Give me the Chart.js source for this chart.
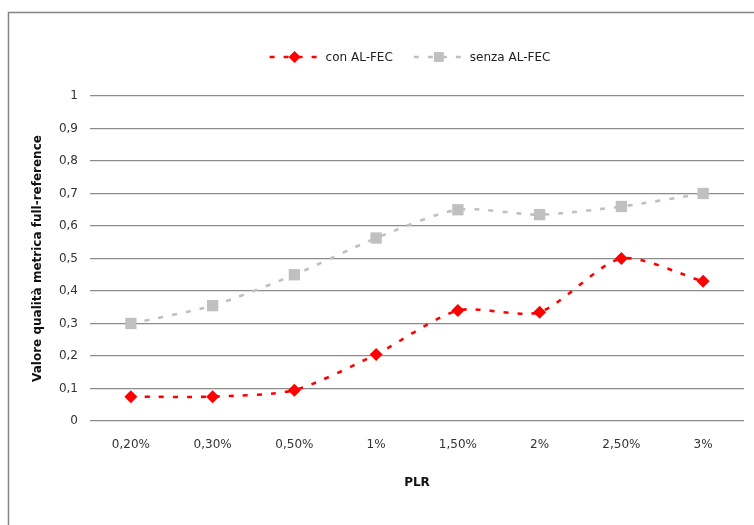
<!DOCTYPE html>
<html>
<head>
<meta charset="utf-8">
<script src="https://cdn.jsdelivr.net/npm/chart.js@4/dist/chart.umd.min.js"></script>
<style>
  html, body { margin: 0; padding: 0; background: #fff; }
  #wrap { width: 754px; height: 525px; position: relative; }
</style>
</head>
<body>
<div id="wrap"><canvas id="c" width="754" height="525"></canvas></div>
<script>
// Packet loss rates on the x axis
const categories = ['0,20%', '0,30%', '0,50%', '1%', '1,50%', '2%', '2,50%', '3%'];

// Full-reference quality metric, with and without AL-FEC
const conALFEC = [0.075, 0.075, 0.095, 0.205, 0.34, 0.335, 0.50, 0.43];
const senzaALFEC = [0.30, 0.355, 0.45, 0.563, 0.65, 0.635, 0.66, 0.70];

const seriesNames = ['con AL-FEC', 'senza AL-FEC'];
const yTicks = [0, 0.1, 0.2, 0.3, 0.4, 0.5, 0.6, 0.7, 0.8, 0.9, 1];

const FONT = 'DejaVu Sans, Verdana, sans-serif';

// Outer frame of the chart object (top and left edges)
const framePlugin = {
  id: 'frame',
  beforeDraw(chart) {
    const ctx = chart.ctx;
    ctx.save();
    ctx.fillStyle = '#fff';
    ctx.fillRect(0, 0, chart.width, chart.height);
    ctx.strokeStyle = '#858585';
    ctx.lineWidth = 1.5;
    ctx.beginPath();
    ctx.moveTo(8.5, chart.height);
    ctx.lineTo(8.5, 12.5);
    ctx.lineTo(chart.width, 12.5);
    ctx.stroke();
    ctx.restore();
  }
};

// Legend drawn as dashed line segment + marker + label
const lineLegendPlugin = {
  id: 'lineLegend',
  afterDraw(chart, args, opts) {
    const ctx = chart.ctx;
    const ds = chart.data.datasets;
    ctx.save();
    ctx.font = '12px ' + FONT;
    ctx.textBaseline = 'middle';
    const lineLen = 48, gapText = 8, gapItem = 21;
    const widths = ds.map(d => lineLen + gapText + ctx.measureText(d.label).width);
    const total = widths.reduce((a, b) => a + b, 0) + gapItem * (ds.length - 1);
    let x = opts.centerX - total / 2;
    const y = opts.y;
    ds.forEach((d, i) => {
      ctx.strokeStyle = d.borderColor;
      ctx.lineWidth = d.borderWidth;
      ctx.setLineDash(d.borderDash);
      ctx.beginPath();
      ctx.moveTo(x, y);
      ctx.lineTo(x + lineLen, y);
      ctx.stroke();
      ctx.setLineDash([]);
      ctx.fillStyle = d.pointBackgroundColor;
      Chart.helpers.drawPoint(ctx, {
        pointStyle: d.pointStyle,
        rotation: 0,
        borderWidth: 0,
        radius: opts.markerRadius[i]
      }, x + lineLen / 2 + 1, y);
      ctx.fillStyle = '#222';
      ctx.fillText(d.label, x + lineLen + gapText, y + 0.5);
      x += widths[i] + gapItem;
    });
    ctx.restore();
  }
};

new Chart(document.getElementById('c'), {
  type: 'line',
  data: {
    labels: categories,
    datasets: [
      {
        label: seriesNames[0],
        data: conALFEC,
        borderColor: '#ff0000',
        backgroundColor: '#ff0000',
        borderWidth: 2.6,
        borderDash: [5, 9],
        pointStyle: 'rectRot',
        pointRadius: 6.5,
        pointHoverRadius: 6.5,
        pointBackgroundColor: '#ff0000',
        pointBorderWidth: 0,
        tension: 0.25,
        fill: false
      },
      {
        label: seriesNames[1],
        data: senzaALFEC,
        borderColor: '#c0c0c0',
        backgroundColor: '#c0c0c0',
        borderWidth: 2.6,
        borderDash: [5, 9],
        pointStyle: 'rect',
        pointRadius: 8,
        pointHoverRadius: 8,
        pointBackgroundColor: '#c0c0c0',
        pointBorderWidth: 0,
        tension: 0.25,
        fill: false
      }
    ]
  },
  options: {
    responsive: false,
    animation: false,
    events: [],
    layout: { padding: { left: 0, right: 10, top: 96, bottom: 0 } },
    plugins: {
      legend: { display: false },
      tooltip: { enabled: false },
      title: { display: false },
      lineLegend: { centerX: 410, y: 57, markerRadius: [6, 7] }
    },
    scales: {
      x: {
        type: 'category',
        offset: true,
        grid: { display: false, drawTicks: false, offset: true },
        border: { display: false },
        ticks: {
          color: '#333',
          font: { family: FONT, size: 12 },
          padding: 17,
          maxRotation: 0,
          autoSkip: false
        },
        title: {
          display: true,
          text: 'PLR',
          color: '#111',
          font: { family: FONT, size: 12, weight: 'bold' },
          padding: { top: 0, bottom: 35 }
        },
        afterFit(scale) { scale.height = 104; }
      },
      y: {
        min: 0,
        max: 1,
        afterBuildTicks(scale) { scale.ticks = yTicks.map(v => ({ value: v })); },
        grid: { color: '#8c8c8c', lineWidth: 1.3, drawTicks: false },
        border: { display: false },
        ticks: {
          color: '#333',
          font: { family: FONT, size: 12 },
          padding: 12,
          callback: v => String(Math.round(v * 10) / 10).replace('.', ',')
        },
        title: {
          display: true,
          text: 'Valore qualità metrica full-reference',
          color: '#111',
          font: { family: FONT, size: 12, weight: 'bold' },
          padding: { top: 31, bottom: 0 }
        },
        afterFit(scale) { scale.width = 90; }
      }
    }
  },
  plugins: [framePlugin, lineLegendPlugin]
});
</script>
</body>
</html>
